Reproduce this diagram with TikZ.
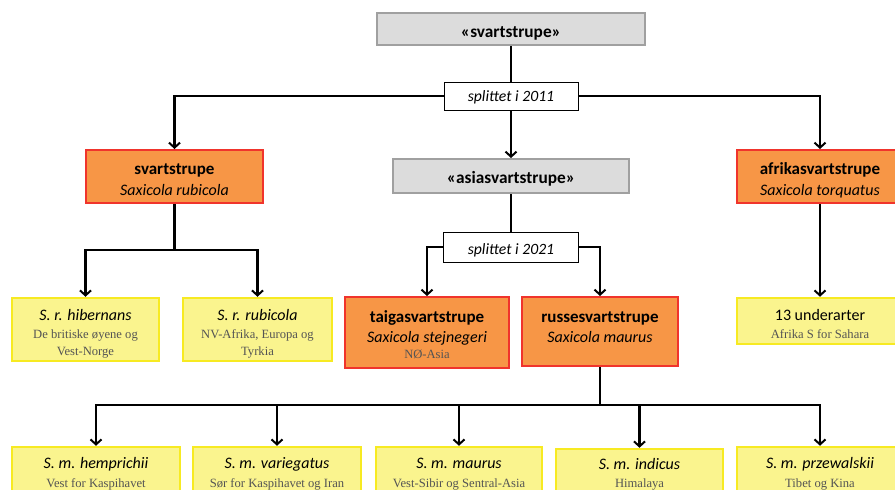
\documentclass[tikz,border=0pt]{standalone}
\usepackage{fontspec}
\setmainfont{Carlito}
\newfontfamily\locserif{Liberation Serif}
\usetikzlibrary{arrows.meta}
\definecolor{orangefill}{HTML}{F79646}
\definecolor{redline}{HTML}{F0342C}
\definecolor{yellowfill}{HTML}{FAF48E}
\definecolor{yellowline}{HTML}{F7EA22}
\definecolor{greyfill}{HTML}{DCDCDC}
\definecolor{greyline}{HTML}{A0A0A0}
\definecolor{loccol}{HTML}{545454}
\newcommand{\loctext}[1]{{\locserif\fontsize{12.6}{16.7}\selectfont\color{loccol}#1}}
\newcommand{\ttl}[1]{{\fontsize{17}{19}\selectfont\bfseries #1}}
\newcommand{\bx}[2][0pt]{\raisebox{-#1}[\height][\depth]{\begin{tabular}{@{}c@{}}#2\end{tabular}}}
\begin{document}
\begin{tikzpicture}[x=1pt,y=-1pt,
  box/.style={rectangle, inner sep=0pt, font=\fontsize{16}{19}\selectfont},
  greybox/.style={box, fill=greyfill, draw=greyline, line width=2pt, font=\bfseries\fontsize{17.3}{19}\selectfont},
  specbox/.style={box, fill=orangefill, draw=redline, line width=2pt},
  subbox/.style={box, fill=yellowfill, draw=yellowline, line width=2.5pt},
  splitbox/.style={box, fill=white, draw=black, line width=0.8pt, font=\itshape\fontsize{15.7}{19}\selectfont},
  conn/.style={line width=2.4pt},
  arr/.style={conn, -{Straight Barb[length=5pt,width=11pt,line width=2pt]}}
]
\useasboundingbox (0,0) rectangle (895,490);
\clip (0,0) rectangle (895,490);
\fill[white] (0,0) rectangle (895,490);

% boxes
\node[greybox, minimum width=268pt, minimum height=32pt] (top) at (511,29) {\bx[5pt]{«svartstrupe»}};
\node[splitbox, minimum width=134pt, minimum height=28pt] (split1) at (511,96) {\bx[2pt]{splittet i 2011}};
\node[specbox, minimum width=177pt, minimum height=53pt] (svart) at (174.5,176.5)
  {\bx[5pt]{\ttl{svartstrupe}\\[2pt]\textit{Saxicola rubicola}}};
\node[greybox, minimum width=236pt, minimum height=34pt] (asia) at (511,176) {\bx[4pt]{«asiasvartstrupe»}};
\node[specbox, minimum width=166pt, minimum height=53pt] (afrika) at (820,176.5)
  {\bx[5pt]{\ttl{afrikasvartstrupe}\\[2pt]\textit{Saxicola torquatus}}};
\node[splitbox, minimum width=135pt, minimum height=30pt] (split2) at (511,247) {\bx[4pt]{splittet i 2021}};

\node[subbox, minimum width=147pt, minimum height=63pt] (hib) at (85.5,329.5)
  {\bx[5pt]{\textit{S. r. hibernans}\\[-1pt]\loctext{De britiske øyene og}\\[-2pt]\loctext{Vest-Norge}}};
\node[subbox, minimum width=149pt, minimum height=63pt] (rub) at (257.5,329.5)
  {\bx[5pt]{\textit{S. r. rubicola}\\[-1pt]\loctext{NV-Afrika, Europa og}\\[-2pt]\loctext{Tyrkia}}};
\node[specbox, minimum width=164pt, minimum height=71pt] (taiga) at (427,332.5)
  {\bx[4.5pt]{\ttl{taigasvartstrupe}\\[1pt]\textit{Saxicola stejnegeri}\\[-3pt]\loctext{NØ-Asia}}};
\node[specbox, minimum width=156pt, minimum height=69pt] (russe) at (600,331.5)
  {\bx[-2.5pt]{\ttl{russesvartstrupe}\\[1pt]\textit{Saxicola maurus}}};
\node[subbox, minimum width=166pt, minimum height=46pt] (und) at (820,321)
  {\bx[5pt]{13 underarter\\[-1pt]\loctext{Afrika S for Sahara}}};

\node[subbox, minimum width=168pt, minimum height=50pt] (hem) at (96,472)
  {\bx[2pt]{\textit{S. m. hemprichii}\\\loctext{Vest for Kaspihavet}}};
\node[subbox, minimum width=168pt, minimum height=50pt] (var) at (277,472)
  {\bx[2pt]{\textit{S. m. variegatus}\\\loctext{Sør for Kaspihavet og Iran}}};
\node[subbox, minimum width=166pt, minimum height=50pt] (mau) at (459,472)
  {\bx[2pt]{\textit{S. m. maurus}\\\loctext{Vest-Sibir og Sentral-Asia}}};
\node[subbox, minimum width=167pt, minimum height=50pt] (ind) at (639.5,474)
  {\bx[0.5pt]{\textit{S. m. indicus}\\[-1pt]\loctext{Himalaya}}};
\node[subbox, minimum width=166pt, minimum height=50pt] (prz) at (820,472)
  {\bx[2pt]{\textit{S. m. przewalskii}\\\loctext{Tibet og Kina}}};

% connectors
\draw[conn] (top.south) -- (split1.north);
\draw[arr] (split1.west) -| (svart.north);
\draw[arr] (split1.east) -| (afrika.north);
\draw[arr] (split1.south) -- (asia.north);
\draw[conn] (asia.south) -- (split2.north);
\draw[arr] (split2.west) -| (taiga.north);
\draw[arr] (split2.east) -| (russe.north);

\coordinate (j1) at (174.5,250);
\draw[conn] (svart.south) -- (j1);
\draw[arr] (j1) -| (hib.north);
\draw[arr] (j1) -| (rub.north);

\draw[arr] (afrika.south) -- (und.north);

\coordinate (j2) at (600,405);
\draw[conn] (russe.south) -- (j2);
\draw[arr] (j2) -| (hem.north);
\draw[arr] (j2) -| (var.north);
\draw[arr] (j2) -| (mau.north);
\draw[arr] (j2) -| (ind.north);
\draw[arr] (j2) -| (prz.north);
\end{tikzpicture}
\end{document}
